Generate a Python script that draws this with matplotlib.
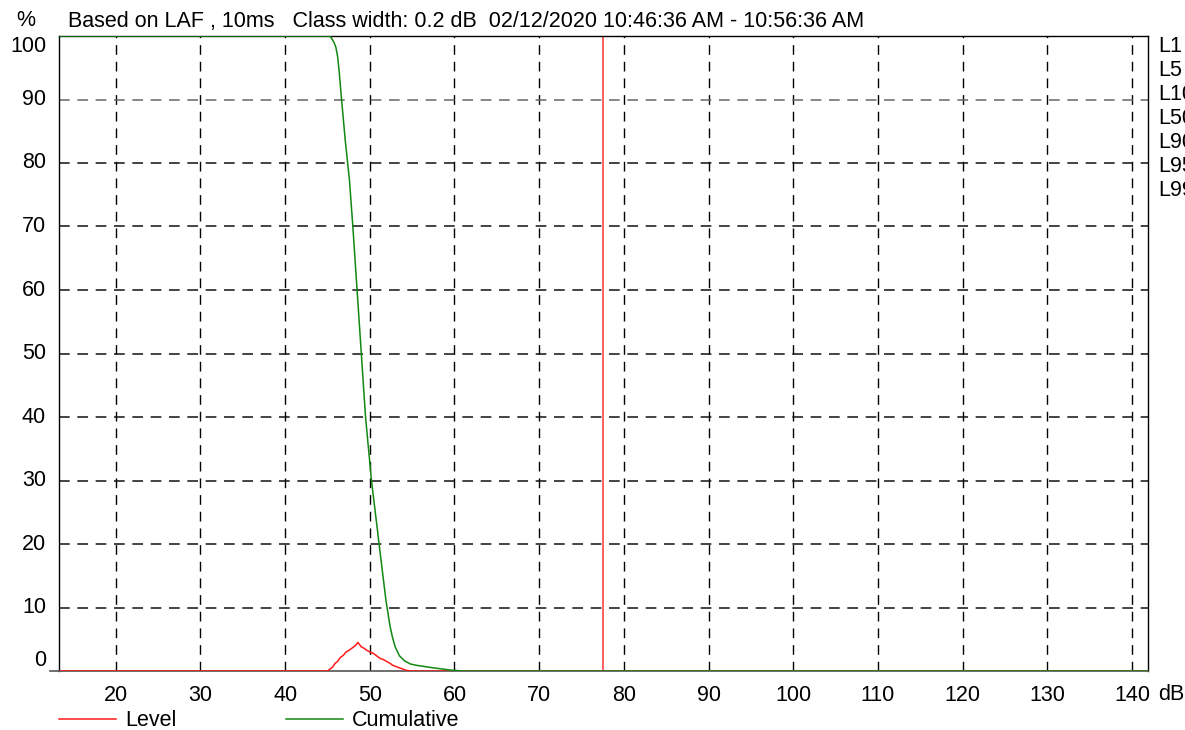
import matplotlib
matplotlib.use("Agg")
import matplotlib.pyplot as plt
from matplotlib.lines import Line2D

plt.rcParams['font.family'] = ['Liberation Sans', 'DejaVu Sans']

# ---- data ----
title_text = "Based on LAF , 10ms   Class width: 0.2 dB  02/12/2020 10:46:36 AM - 10:56:36 AM"
x_ticks = [20, 30, 40, 50, 60, 70, 80, 90, 100, 110, 120, 130, 140]
y_ticks = [0, 10, 20, 30, 40, 50, 60, 70, 80, 90, 100]
stat_labels = ["L1", "L5", "L10", "L50", "L90", "L95", "L99"]

level_db = [13.3, 45.0, 45.3, 45.6, 45.9, 46.2, 46.5, 46.9, 47.2, 47.6, 48.0, 48.3, 48.6,
            49.0, 49.3, 49.6, 50.0, 50.4, 50.8, 51.2, 51.6, 52.0, 52.4, 52.7,
            53.1, 53.5, 53.9, 54.3, 55.0, 141.9]
level_pct = [0.0, 0.0, 0.3, 0.6, 1.2, 1.5, 2.1, 2.5, 3.0, 3.3, 3.7, 4.0, 4.5,
             3.8, 3.6, 3.3, 3.0, 2.8, 2.4, 2.0, 1.8, 1.5, 1.2, 0.9,
             0.7, 0.5, 0.3, 0.1, 0.0, 0.0]

cum_db = [13.3, 45.2, 45.4, 45.6, 45.8, 46.0, 46.2, 46.4, 46.6, 47.1, 47.6, 48.0, 48.5,
          49.0, 49.5, 50.2, 51.1, 51.9, 52.4, 52.7, 53.0, 53.5, 54.1, 54.8, 55.5, 56.5,
          57.5, 59.5, 61.0, 141.9]
cum_pct = [100.0, 100.0, 99.8, 99.4, 98.9, 98.2, 96.8, 94.2, 91.0, 83.6, 77.3, 70.0, 60.0,
           50.0, 40.0, 30.0, 20.0, 11.2, 7.0, 5.2, 3.8, 2.4, 1.6, 1.1, 0.9, 0.7,
           0.5, 0.15, 0.0, 0.0]

cursor_db = 77.5
x_range = (13.3, 141.9)

# ---- figure ----
fig = plt.figure(figsize=(11.85, 7.3), dpi=100)
ax = fig.add_axes([59/1185, 59/730, (1148-59)/1185, (671-36)/730])
ax.set_xlim(*x_range)
ax.set_ylim(0, 100)

fs = 15.5
# grid
for xv in x_ticks:
    ax.axvline(xv, color='black', lw=1, dashes=(7, 5), zorder=1)
for yv in y_ticks[1:-1]:
    c = '#666666' if yv == 90 else '#111111'
    ax.axhline(yv, color=c, lw=1.1, dashes=(7, 5), zorder=1)

ax.plot(level_db, level_pct, color='#ff1a1a', lw=1.1, zorder=3)
ax.plot(cum_db, cum_pct, color='#118811', lw=1.1, zorder=4)
ax.axvline(cursor_db, color='#ff3333', lw=1.1, zorder=2)

ax.set_xticks(x_ticks)
ax.set_xticklabels([str(v) for v in x_ticks], fontsize=fs)
ax.set_yticks([])
ax.tick_params(axis='x', length=0, pad=10)
for s in ['left', 'right', 'top']:
    ax.spines[s].set_color('black')
    ax.spines[s].set_linewidth(1)
ax.spines['bottom'].set_color('#555555')
ax.spines['bottom'].set_linewidth(1.2)
fig.add_artist(Line2D([50/1185, 59/1185], [1 - 671/730]*2, color='#555555', lw=1.2))

# y labels
for yv in y_ticks:
    ypix = 671 - yv * 6.35
    if yv == 0:
        ypix = 660
    if yv == 100:
        ypix = 47
    fig.text(46/1185, 1 - ypix/730, str(yv), ha='right', va='center', fontsize=fs)

fig.text(26/1185, 1 - 21/730, "%", ha='center', va='center', fontsize=fs)
fig.text(68/1185, 1 - 21/730, title_text, ha='left', va='center', fontsize=fs)
fig.text(1158/1185, 1 - 694/730, "dB", ha='left', va='center', fontsize=fs)

for i, lab in enumerate(stat_labels):
    fig.text(1158/1185, 1 - (47 + 24*i)/730, lab, ha='left', va='center', fontsize=fs)

# legend
fig.add_artist(Line2D([59/1185, 116/1185], [1 - 719/730]*2, color='#ff1a1a', lw=1.1))
fig.text(125/1185, 1 - 720/730, "Level", ha='left', va='center', fontsize=fs)
fig.add_artist(Line2D([286/1185, 343/1185], [1 - 719/730]*2, color='#118811', lw=1.1))
fig.text(352/1185, 1 - 720/730, "Cumulative", ha='left', va='center', fontsize=fs)

fig.savefig("out.png", dpi=100)
